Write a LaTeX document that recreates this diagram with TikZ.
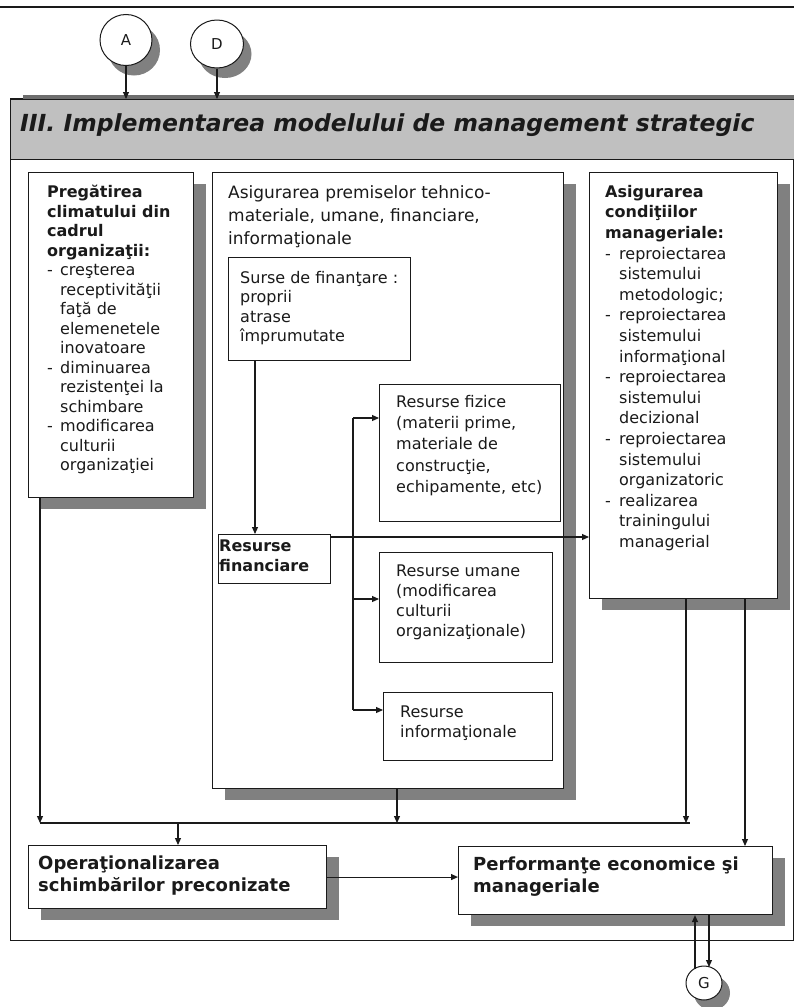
\documentclass[tikz,border=0pt]{standalone}
\usepackage{fontspec}
\setmainfont{DejaVu Sans}
\usetikzlibrary{arrows.meta,shapes.geometric,shadows}

\definecolor{ink}{HTML}{1A1A1A}
\definecolor{shade}{HTML}{808080}
\definecolor{band}{HTML}{C0C0C0}
\definecolor{bandshade}{HTML}{6E6E6E}

\newcommand{\setfs}[2]{\fontsize{#1}{#2}\selectfont}
\newcommand{\dashitem}{\makebox[13pt][l]{-}}
\newcommand{\indentitem}{\hspace*{13pt}}
\newcommand{\dashitemw}{\makebox[14pt][l]{-}}
\newcommand{\indentitemw}{\hspace*{14pt}}

\tikzset{
  box/.style={draw=ink, line width=1.1pt, fill=white, rectangle, inner sep=0pt, anchor=north west},
  shadowed/.style={drop shadow={shadow xshift=12pt, shadow yshift=-11pt, fill=shade, opacity=1}},
  txt/.style={inner sep=0pt, anchor=north west, align=left, text=ink},
  arr/.style={draw=ink, line width=1.1pt, -{Triangle[length=7pt,width=6pt]}},
  wire/.style={draw=ink, line width=1.1pt},
  bubble/.style={ellipse, draw=ink, line width=1pt, fill=white, inner sep=0pt,
    drop shadow={shadow xshift=8pt, shadow yshift=-10pt, fill=shade, opacity=1},
    font=\setfs{15}{17}, text=ink}
}

\begin{document}
\begin{tikzpicture}[x=1pt,y=-1pt]
\useasboundingbox (0,0) rectangle (794,1007);

% rule under the page heading
\draw[line width=2.7pt, ink] (0,7) -- (794,7);

% outer frame and title band
\node[draw=ink, line width=1pt, rectangle, inner sep=0pt, anchor=north west,
      minimum width=783pt, minimum height=842pt] (frame) at (10,98) {};
\node[draw=ink, line width=1pt, fill=band, rectangle, inner sep=0pt, anchor=north west,
      minimum width=790pt, minimum height=60pt,
      drop shadow={shadow xshift=12pt, shadow yshift=5pt, fill=bandshade, opacity=1}] (hdr) at (10,99) {};
\node[inner sep=0pt, anchor=west, text=ink, font=\setfs{23.5}{27}\bfseries\itshape] (hdrT) at (20,125)
  {III. Implementarea modelului de management strategic};

% entry connectors
\node[bubble, minimum width=52pt, minimum height=51pt] (A) at (126,40) {A};
\node[bubble, minimum width=53pt, minimum height=48pt] (D) at (217,44) {D};
\draw[arr] (A.south) -- (A.south |- hdr.north);
\draw[arr] (D.south) -- (D.south |- hdr.north);

% left column
\node[box, shadowed, minimum width=165pt, minimum height=325pt] (prep) at (28,172) {};
\node[txt, font=\setfs{16}{19.5}] (prepT) at (47,185) {%
  \textbf{Pregătirea}\\
  \textbf{climatului din}\\
  \textbf{cadrul}\\
  \textbf{organizaţii:}\\
  \dashitem creşterea\\
  \indentitem receptivităţii\\
  \indentitem faţă de\\
  \indentitem elemenetele\\
  \indentitem inovatoare\\
  \dashitem diminuarea\\
  \indentitem rezistenţei la\\
  \indentitem schimbare\\
  \dashitem modificarea\\
  \indentitem culturii\\
  \indentitem organizaţiei};

% middle column
\node[box, shadowed, minimum width=351pt, minimum height=616pt] (prem) at (212,172) {};
\node[txt, font=\setfs{17}{23}] (premT) at (228,185) {%
  Asigurarea premiselor tehnico-\\
  materiale, umane, financiare,\\
  informaţionale};

\node[box, minimum width=182pt, minimum height=103pt] (src) at (228,257) {};
\node[txt, font=\setfs{16}{19.5}] (srcT) at (240,271) {%
  Surse de finanţare :\\ proprii\\ atrase\\ împrumutate};

\node[box, minimum width=112pt, minimum height=49pt] (fin) at (218,534) {};
\node[txt, font=\setfs{16}{20}\bfseries] (finT) at (219,540) {Resurse\\ financiare};

\node[box, minimum width=181pt, minimum height=137pt] (fiz) at (379,384) {};
\node[txt, font=\setfs{16}{21.3}] (fizT) at (396,395) {%
  Resurse fizice\\ (materii prime,\\ materiale de\\ construcţie,\\ echipamente, etc)};

\node[box, minimum width=173pt, minimum height=110pt] (uman) at (379,552) {};
\node[txt, font=\setfs{16}{20}] (umanT) at (396,565) {%
  Resurse umane\\ (modificarea\\ culturii\\ organizaţionale)};

\node[box, minimum width=169pt, minimum height=68pt] (info) at (383,692) {};
\node[txt, font=\setfs{16}{19.5}] (infoT) at (400,706) {Resurse\\ informaţionale};

% right column
\node[box, shadowed, minimum width=188pt, minimum height=426pt] (cond) at (589,172) {};
\node[txt, font=\setfs{16}{20.6}] (condT) at (605,185) {%
  \textbf{Asigurarea}\\
  \textbf{condiţiilor}\\
  \textbf{manageriale:}\\
  \dashitemw reproiectarea\\
  \indentitemw sistemului\\
  \indentitemw metodologic;\\
  \dashitemw reproiectarea\\
  \indentitemw sistemului\\
  \indentitemw informaţional\\
  \dashitemw reproiectarea\\
  \indentitemw sistemului\\
  \indentitemw decizional\\
  \dashitemw reproiectarea\\
  \indentitemw sistemului\\
  \indentitemw organizatoric\\
  \dashitemw realizarea\\
  \indentitemw trainingului\\
  \indentitemw managerial};

% bottom row
\node[box, shadowed, minimum width=298pt, minimum height=63pt] (op) at (28,845) {};
\node[txt, font=\setfs{18}{22}\bfseries] (opT) at (38,856) {%
  Operaţionalizarea\\ schimbărilor preconizate};

\node[box, shadowed, minimum width=314pt, minimum height=68pt] (perf) at (458,846) {};
\node[txt, font=\setfs{18}{22}\bfseries] (perfT) at (473,857) {%
  Performanţe economice şi\\ manageriale};

\node[bubble, minimum width=36pt, minimum height=34pt] (G) at (704,983) {G};

% financing flow
\draw[arr] ([xshift=27pt]src.south west) -- ([xshift=27pt]src.south west |- fin.north);
\coordinate (tap) at ([yshift=-3pt]fin.north east);
\draw[arr] (tap) -- (tap -| cond.west);

% distribution to the resource boxes
\coordinate (b1) at (353,418);
\coordinate (b2) at (353,599);
\coordinate (b3) at (353,710);
\draw[wire] (b1) -- (b3);
\draw[arr] (b1) -- (b1 -| fiz.west);
\draw[arr] (b2) -- (b2 -| uman.west);
\draw[arr] (b3) -- (b3 -| info.west);

% collecting bus
\coordinate (busL) at (40,823);
\coordinate (busR) at (690,823);
\coordinate (busM) at (397,823);
\coordinate (busC) at (686,823);
\coordinate (busO) at (178,823);
\coordinate (sideP) at (745,846);
\draw[wire] (busL) -- (busR);
\draw[arr] (prep.south -| busL) -- (busL);
\draw[arr] (prem.south -| busM) -- (busM);
\draw[arr] (cond.south -| busC) -- (busC);
\draw[arr] (cond.south -| sideP) -- (sideP |- perf.north);
\draw[arr] (busO) -- (busO |- op.north);
\draw[arr] (op.east) -- (op.east -| perf.west);

% exchange with G
\coordinate (gu) at (695,969);
\coordinate (gd) at (709,967);
\draw[arr] (gu) -- (gu |- perf.south);
\draw[arr] (gd |- perf.south) -- (gd);
\end{tikzpicture}
\end{document}
